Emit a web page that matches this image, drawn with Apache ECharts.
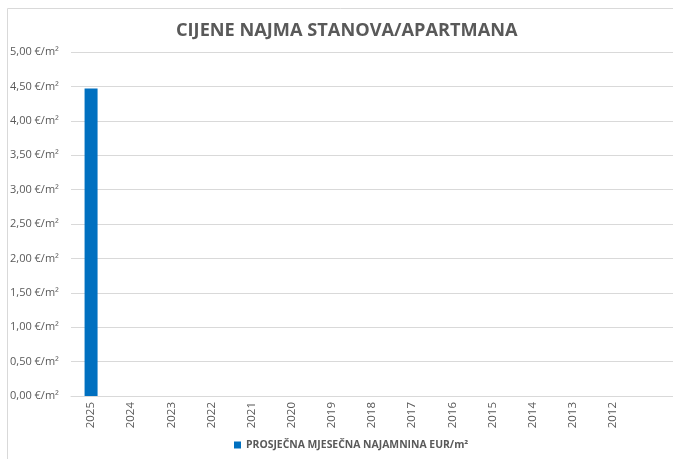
<!DOCTYPE html>
<html>
<head>
<meta charset="utf-8">
<script src="https://cdn.jsdelivr.net/npm/echarts@6/dist/echarts.min.js"></script>
<style>
  html, body { margin: 0; padding: 0; background: #fff; }
  #chart { width: 673px; height: 459px; }
</style>
</head>
<body>
<div id="chart"></div>
<script>
// podaci
const godine = ['2025', '2024', '2023', '2022', '2021', '2020', '2019', '2018', '2017', '2016', '2015', '2014', '2013', '2012'];
const najamnina = [4.47, null, null, null, null, null, null, null, null, null, null, null, null, null];
const nazivSerije = 'PROSJEČNA MJESEČNA NAJAMNINA EUR/m²';
const naslov = 'CIJENE NAJMA STANOVA/APARTMANA';

const myEchart = echarts.init(document.getElementById('chart'));
const font = 'Open Sans';

// grafikon je odrezan desno, pa dodajemo jedno prazno mjesto na kraju osi
const kategorije = godine.concat(['']);
const vrijednosti = najamnina.concat([null]);

const option = {
    animation: false,
    graphic: [{
        type: 'rect',
        shape: { x: 7.5, y: 8.5, width: 720, height: 520 },
        style: { fill: 'none', stroke: '#d9d9d9', lineWidth: 1 },
        silent: true
    }],
    title: {
        text: naslov,
        left: 171,
        top: 17,
        textStyle: {
            fontFamily: font,
            fontSize: 18.2,
            fontWeight: 'bold',
            color: '#595959'
        }
    },
    legend: {
        bottom: 4,
        left: 229,
        icon: 'rect',
        itemWidth: 7,
        itemHeight: 7,
        itemGap: 4,
        textStyle: {
            fontFamily: font,
            fontSize: 10.4,
            fontWeight: 'bold',
            color: '#595959'
        },
        data: [nazivSerije]
    },
    grid: {
        left: 71,
        right: -10,
        top: 52,
        bottom: 63,
        containLabel: false
    },
    xAxis: {
        type: 'category',
        data: kategorije,
        axisLine: { lineStyle: { color: '#d9d9d9' } },
        axisTick: { show: false },
        axisLabel: {
            rotate: 90,
            interval: 0,
            margin: 6,
            fontFamily: font,
            fontSize: 11.5,
            color: '#595959'
        }
    },
    yAxis: {
        type: 'value',
        min: 0,
        max: 5,
        interval: 0.5,
        axisLine: { show: false },
        axisTick: { show: false },
        splitLine: { lineStyle: { color: '#d9d9d9' } },
        axisLabel: {
            align: 'left',
            margin: 61,
            fontFamily: font,
            fontSize: 11,
            color: '#595959',
            formatter: v => v.toFixed(2).replace('.', ',') + ' €/m²'
        }
    },
    series: [{
        name: nazivSerije,
        type: 'bar',
        data: vrijednosti,
        barWidth: 13,
        itemStyle: { color: '#0070c0' }
    }]
};
myEchart.setOption(option);
</script>
</body>
</html>
